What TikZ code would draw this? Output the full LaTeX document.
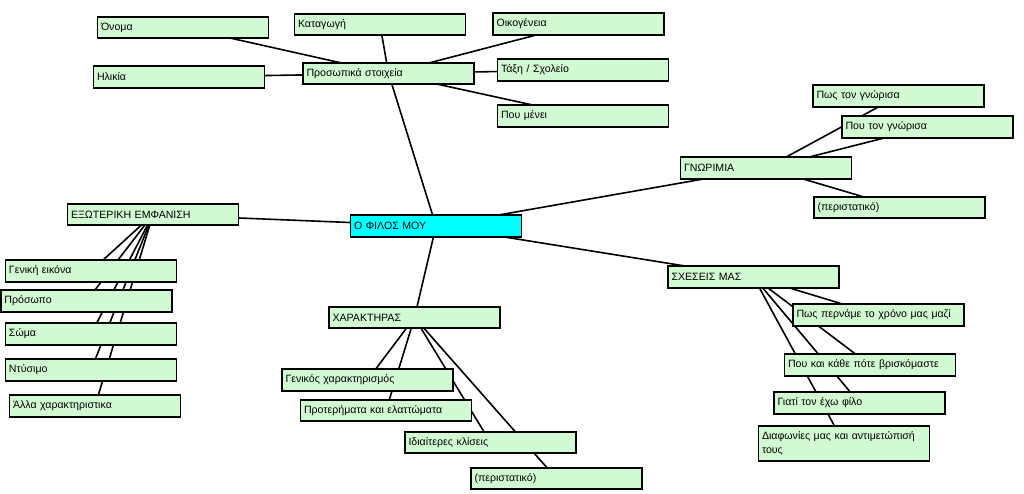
\documentclass[tikz,border=0pt]{standalone}
\usepackage{fontspec}
\setmainfont{Liberation Sans}
\usetikzlibrary{backgrounds}
\definecolor{topicgreen}{RGB}{210,250,210}
\definecolor{rootcyan}{RGB}{0,255,255}

\begin{document}
\begin{tikzpicture}
    [
      x=1pt,y=-1pt,
      topic/.style={draw=black,line width=1.6pt,fill=topicgreen,minimum width=171pt,minimum height=21.5pt,
        text width=164pt,inner xsep=3.5pt,inner ysep=2pt,align=left,font=\fontsize{10.6}{13.5}\selectfont},
      root/.style={topic,fill=rootcyan},
      link/.style={line width=1.6pt},
    ]

    \useasboundingbox (0,0) rectangle (1024,494);

    \node (filos) [root] at (436,226) {Ο ΦΙΛΟΣ ΜΟΥ};

    % personal details
    \node (prosopika) [topic] at (388.5,73.5) {Προσωπικά στοιχεία};
    \node (onoma) [topic] at (183,27.5) {Όνομα};
    \node (ilikia) [topic] at (179,77) {Ηλικία};
    \node (katagogi) [topic] at (380,24.5) {Καταγωγή};
    \node (oikogeneia) [topic] at (578.5,24) {Οικογένεια};
    \node (taxi) [topic] at (583,70) {Τάξη / Σχολείο};
    \node (menei) [topic] at (583,116) {Που μένει};

    % how we met
    \node (gnorimia) [topic] at (766,168) {ΓΝΩΡΙΜΙΑ};
    \node (pos-gnorisa) [topic] at (898.5,96) {Πως τον γνώρισα};
    \node (pou-gnorisa) [topic] at (927.5,127) {Που τον γνώρισα};
    \node (peri-gn) [topic] at (899.5,207.5) {(περιστατικό)};

    % appearance
    \node (emfanisi) [topic] at (153,214.5) {ΕΞΩΤΕΡΙΚΗ ΕΜΦΑΝΙΣΗ};
    \node (geniki) [topic] at (91,271) {Γενική εικόνα};
    \node (prosopo) [topic] at (86.5,301) {Πρόσωπο};
    \node (soma) [topic] at (91,334) {Σώμα};
    \node (ntysimo) [topic] at (91,370) {Ντύσιμο};
    \node (alla) [topic] at (95,406) {Άλλα χαρακτηριστικα};

    % character
    \node (xaraktiras) [topic] at (414.5,317.5) {ΧΑΡΑΚΤΗΡΑΣ};
    \node (genikos) [topic] at (367.5,380) {Γενικός χαρακτηρισμός};
    \node (proter) [topic] at (386,410.5) {Προτερήματα και ελαττώματα};
    \node (idiait) [topic] at (490.5,442.5) {Ιδιαίτερες κλίσεις};
    \node (peri-xar) [topic] at (556.5,478.5) {(περιστατικό)};

    % relations
    \node (sxeseis) [topic] at (753.5,277) {ΣΧΕΣΕΙΣ ΜΑΣ};
    \node (pernam) [topic] at (878.5,315) {Πως περνάμε το χρόνο μας μαζί};
    \node (poukathe) [topic] at (870,365) {Που και κάθε πότε βρισκόμαστε};
    \node (giati) [topic] at (859.5,403) {Γιατί τον έχω φίλο};
    \node (diafon) [topic,minimum height=35.5pt] at (844,443.5) {Διαφωνίες μας και αντιμετώπισή\\τους};

    \begin{scope}[on background layer]
    \path
    (filos.center) edge [link] (prosopika.center)
    (filos.center) edge [link] (gnorimia.center)
    (filos.center) edge [link] (emfanisi.center)
    (filos.center) edge [link] (xaraktiras.center)
    (filos.center) edge [link] (sxeseis.center)

    (prosopika.center) edge [link] (onoma.center)
    (prosopika.center) edge [link] (ilikia.center)
    (prosopika.center) edge [link] (katagogi.center)
    (prosopika.center) edge [link] (oikogeneia.center)
    (prosopika.center) edge [link] (taxi.center)
    (prosopika.center) edge [link] (menei.center)

    (gnorimia.center) edge [link] (pos-gnorisa.center)
    (gnorimia.center) edge [link] (pou-gnorisa.center)
    (gnorimia.center) edge [link] (peri-gn.center)

    (emfanisi.center) edge [link] (geniki.center)
    (emfanisi.center) edge [link] (prosopo.center)
    (emfanisi.center) edge [link] (soma.center)
    (emfanisi.center) edge [link] (ntysimo.center)
    (emfanisi.center) edge [link] (alla.center)

    (xaraktiras.center) edge [link] (genikos.center)
    (xaraktiras.center) edge [link] (proter.center)
    (xaraktiras.center) edge [link] (idiait.center)
    (xaraktiras.center) edge [link] (peri-xar.center)

    (sxeseis.center) edge [link] (pernam.center)
    (sxeseis.center) edge [link] (poukathe.center)
    (sxeseis.center) edge [link] (giati.center)
    (sxeseis.center) edge [link] (diafon.center)
    ;
    \end{scope}

  \end{tikzpicture}
\end{document}
